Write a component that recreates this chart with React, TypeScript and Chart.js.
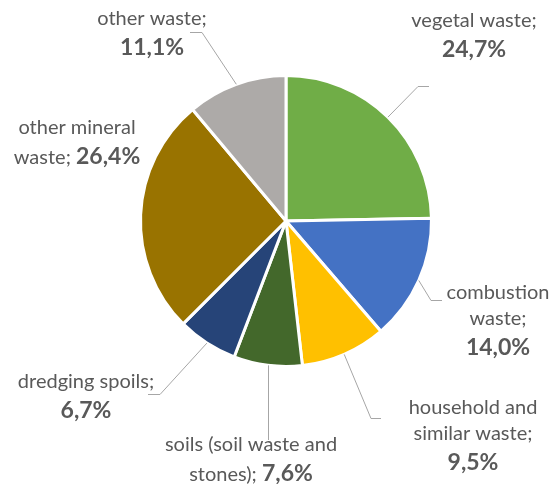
import { useEffect, useRef } from 'react';
import { Chart, registerables } from 'chart.js';

Chart.register(...registerables);

const categories = [
  'vegetal waste',
  'combustion waste',
  'household and similar waste',
  'soils (soil waste and stones)',
  'dredging spoils',
  'other mineral waste',
  'other waste',
];
const shares = [24.7, 14.0, 9.5, 7.6, 6.7, 26.4, 11.1];
const colors = ['#70AD47', '#4472C4', '#FFC000', '#43682B', '#264478', '#997300', '#ADAAA8'];

// label placement (layout only)
type Layout = { cx: number; y: number; maxW: number; elbow: number[] | null; end: number[] | null; vertical?: boolean };
const labelLayout: Layout[] = [
  { cx: 474, y: 27, maxW: 145, elbow: [418, 86], end: [429, 86] },
  { cx: 498, y: 299, maxW: 110, elbow: [431, 300], end: [442, 300] },
  { cx: 473, y: 414, maxW: 145, elbow: [371, 418], end: [381, 418] },
  { cx: 251, y: 451, maxW: 195, elbow: null, end: [0, 440], vertical: true },
  { cx: 86, y: 388, maxW: 160, elbow: [160, 394], end: [148, 394] },
  { cx: 77, y: 134, maxW: 145, elbow: null, end: null },
  { cx: 152, y: 25, maxW: 125, elbow: [202, 32], end: [190, 32] },
];

const FONT_FAMILY = 'Lato, "Open Sans", sans-serif';
const NORMAL_FONT = `20px ${FONT_FAMILY}`;
const BOLD_FONT = `bold 23px ${FONT_FAMILY}`;
const TEXT_COLOR = '#595959';
const LINE_COLOR = '#A6A6A6';

const fmt = (v: number) => v.toFixed(1).replace('.', ',') + '%';

const labelPlugin = {
  id: 'pieLabels',
  afterDatasetsDraw(chart: any) {
    const ctx: CanvasRenderingContext2D = chart.ctx;
    const meta = chart.getDatasetMeta(0);
    ctx.save();
    meta.data.forEach((arc: any, i: number) => {
      const lay = labelLayout[i];
      const p = arc.getProps(['x', 'y', 'startAngle', 'endAngle', 'outerRadius'], true);
      const mid = (p.startAngle + p.endAngle) / 2;
      const sx = p.x + Math.cos(mid) * p.outerRadius;
      const sy = p.y + Math.sin(mid) * p.outerRadius;
      // leader line
      if (lay.end) {
        ctx.strokeStyle = LINE_COLOR;
        ctx.lineWidth = 1;
        ctx.beginPath();
        if (lay.vertical) {
          const vx = Math.round(sx) + 0.5;
          ctx.moveTo(vx, sy);
          ctx.lineTo(vx, lay.end[1]);
        } else {
          ctx.moveTo(sx, sy);
          if (lay.elbow) ctx.lineTo(lay.elbow[0], lay.elbow[1] + 0.5);
          ctx.lineTo(lay.end[0], lay.end[1] + 0.5);
        }
        ctx.stroke();
      }
      // text tokens
      const words = categories[i].split(' ');
      words[words.length - 1] += ';';
      const tokens = words.map((w) => ({ t: w, bold: false }));
      tokens.push({ t: fmt(shares[i]), bold: true });
      const measure = (tk: { t: string; bold: boolean }) => {
        ctx.font = tk.bold ? BOLD_FONT : NORMAL_FONT;
        return ctx.measureText(tk.t).width;
      };
      ctx.font = NORMAL_FONT;
      const space = ctx.measureText(' ').width;
      const lines: { t: string; bold: boolean }[][] = [];
      let cur: { t: string; bold: boolean }[] = [];
      let curW = 0;
      tokens.forEach((tk) => {
        const w = measure(tk);
        if (cur.length === 0) {
          cur = [tk];
          curW = w;
        } else if (curW + space + w <= lay.maxW) {
          cur.push(tk);
          curW += space + w;
        } else {
          lines.push(cur);
          cur = [tk];
          curW = w;
        }
      });
      if (cur.length) lines.push(cur);
      ctx.fillStyle = TEXT_COLOR;
      ctx.textBaseline = 'alphabetic';
      ctx.textAlign = 'left';
      let y = lay.y;
      lines.forEach((line, li) => {
        const hasBold = line.some((t) => t.bold);
        if (li > 0) y += hasBold ? 30 : 26;
        let total = 0;
        line.forEach((tk, k) => {
          total += measure(tk) + (k > 0 ? space : 0);
        });
        let x = lay.cx - total / 2;
        line.forEach((tk, k) => {
          if (k > 0) x += space;
          ctx.font = tk.bold ? BOLD_FONT : NORMAL_FONT;
          ctx.fillText(tk.t, x, y);
          x += ctx.measureText(tk.t).width;
        });
      });
    });
    ctx.restore();
  },
};

export default function App() {
  const ref = useRef<HTMLCanvasElement | null>(null);
  useEffect(() => {
    if (!ref.current) return;
    const chart = new Chart(ref.current, {
      type: 'pie',
      data: {
        labels: categories,
        datasets: [
          {
            data: shares,
            backgroundColor: colors,
            borderColor: '#FFFFFF',
            borderWidth: 3,
          },
        ],
      },
      options: {
        animation: false,
        responsive: false,
        devicePixelRatio: 1,
        layout: { padding: { left: 139, right: 118, top: 74, bottom: 116 } },
        plugins: {
          legend: { display: false },
          tooltip: { enabled: false },
        },
      },
      plugins: [labelPlugin],
    });
    return () => chart.destroy();
  }, []);
  return (
    <div style={{ position: 'absolute', left: 0, top: 0, width: 551, height: 484, background: '#fff' }}>
      <canvas ref={ref} width={551} height={484} />
    </div>
  );
}
